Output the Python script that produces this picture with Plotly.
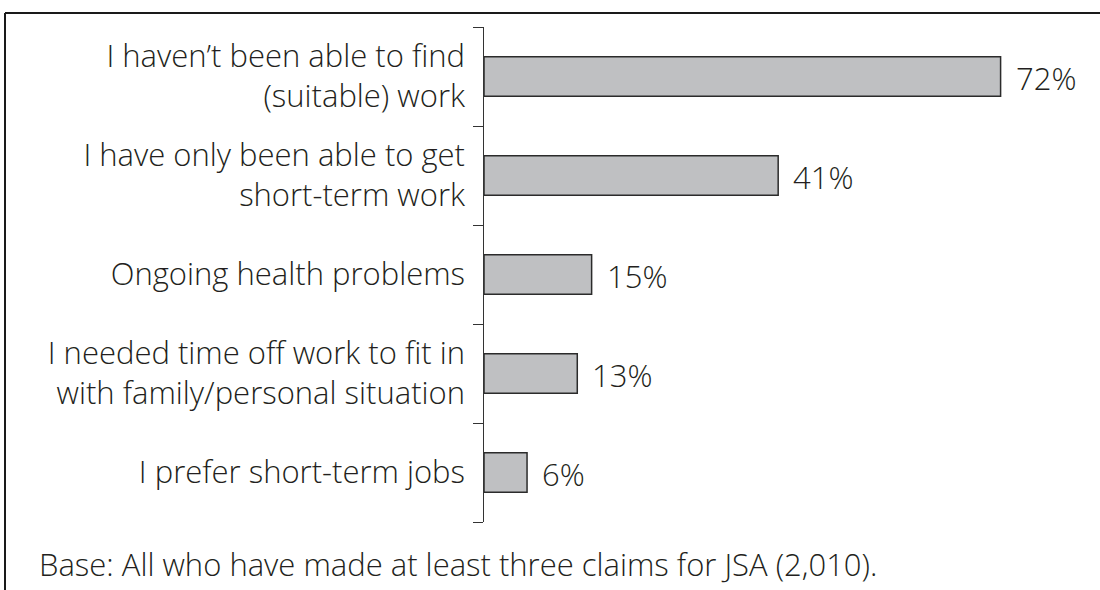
import plotly.graph_objects as go

categories = [
    "I haven’t been able to find<br>(suitable) work",
    "I have only been able to get<br>short-term work",
    "Ongoing health problems",
    "I needed time off work to fit in<br>with family/personal situation",
    "I prefer short-term jobs",
]
values = [72, 41, 15, 13, 6]
value_labels = ["72%", "41%", "15%", "13%", "6%"]
footnote = "Base: All who have made at least three claims for JSA (2,010)."

W, H = 1100, 590
L, R, T, B = 484, 42, 27, 68
pw, ph = W - L - R, H - T - B

def px(x):
    return (x - L) / pw

def py(y):
    return 1 - (y - T) / ph

FONT = "Open Sans"
TXT = "#231f20"
WEIGHT = 300
SIZE = 31
n = len(categories)
pos = list(range(n))
bounds = [i - 0.5 for i in range(n + 1)]

fig = go.Figure(go.Bar(
    x=values, y=pos, orientation="h",
    marker=dict(color="#bfc0c2", line=dict(color="#2b2b2b", width=1.5)),
    width=0.4,
))
# invisible trace to activate the label axis
fig.add_trace(go.Scatter(x=[None], y=[None], yaxis="y2", showlegend=False))

for v, lab, p in zip(values, value_labels, pos):
    fig.add_annotation(x=v, y=p, text=lab, showarrow=False, xanchor="left",
                       xshift=13, yshift=-1,
                       font=dict(family=FONT, size=SIZE, color=TXT, weight=WEIGHT))

fig.add_annotation(x=px(37), y=py(564), xref="paper", yref="paper", text=footnote,
                   showarrow=False, xanchor="left", yanchor="middle",
                   font=dict(family=FONT, size=SIZE, color=TXT, weight=WEIGHT))

# frame (top and left)
fig.add_shape(type="line", xref="paper", yref="paper", x0=px(5), x1=px(1100),
              y0=py(13), y1=py(13), line=dict(color="#1a1a1a", width=2))
fig.add_shape(type="line", xref="paper", yref="paper", x0=px(5), x1=px(5),
              y0=py(13), y1=py(590), line=dict(color="#1a1a1a", width=2))

fig.update_layout(
    width=W, height=H,
    margin=dict(l=L, r=R, t=T, b=B),
    paper_bgcolor="white", plot_bgcolor="white",
    showlegend=False,
    xaxis=dict(range=[0, 80], visible=False, fixedrange=True),
    yaxis=dict(
        range=[n - 0.5, -0.5], tickmode="array", tickvals=bounds,
        ticktext=[""] * len(bounds),
        ticks="outside", ticklen=10, tickcolor="#333", tickwidth=1.3,
        showline=True, linecolor="#333", linewidth=1.3,
        showgrid=False, zeroline=False,
    ),
    yaxis2=dict(
        overlaying="y", side="left", anchor="x",
        range=[n - 0.5, -0.5], tickmode="array", tickvals=pos, ticktext=categories,
        ticks="", showline=False, showgrid=False, zeroline=False,
        tickfont=dict(family=FONT, size=SIZE, color=TXT, weight=WEIGHT),
        ticklabelstandoff=18,
    ),
)

fig.write_html("out.html")
